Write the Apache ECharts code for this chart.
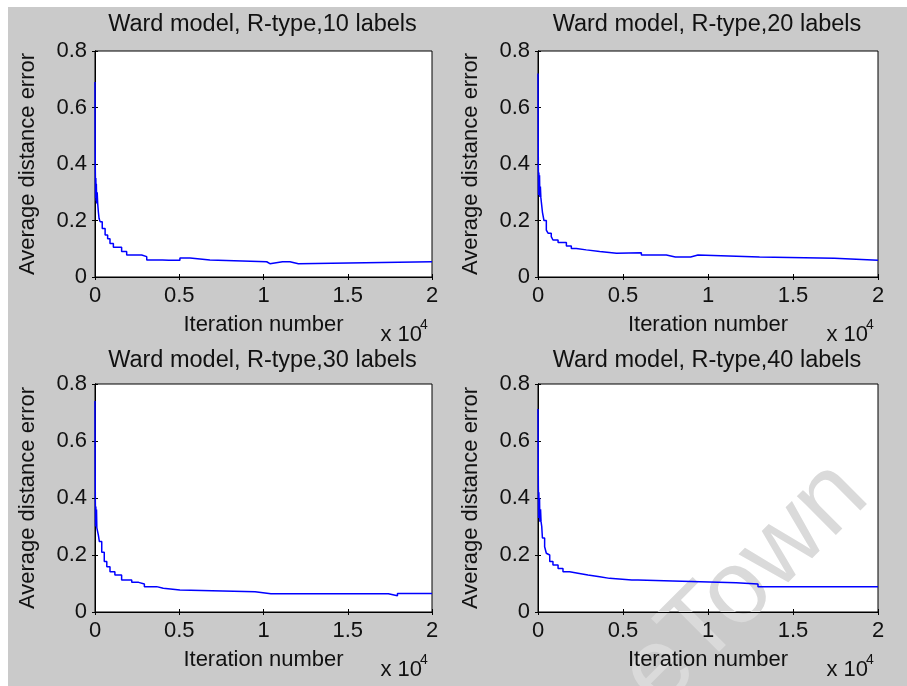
<!DOCTYPE html>
<html>
<head>
<meta charset="utf-8">
<script src="https://cdn.jsdelivr.net/npm/echarts@6/dist/echarts.min.js"></script>
<style>
  html, body { margin: 0; padding: 0; background: #ffffff; }
  #backdrop { position: absolute; left: 8px; top: 7px; width: 899px; height: 679px; background: #cacaca; }
  #chart { position: absolute; left: 0; top: 0; width: 907px; height: 686px; }
</style>
</head>
<body>
<div id="backdrop"></div>
<div id="chart"></div>
<script>
// Average distance error vs. iteration, Ward model, R-type, four label counts.
// Each list holds [iteration, error] pairs; the error holds until the next pair.
const labelCounts = [10, 20, 30, 40];

const err10 = [
  [0, 0.69], [12, 0.45], [20, 0.37], [35, 0.28], [50, 0.35], [65, 0.27], [80, 0.33],
  [100, 0.26], [130, 0.30], [160, 0.26], [200, 0.23], [240, 0.208], [300, 0.196],
  [430, 0.172], [600, 0.149], [750, 0.135], [890, 0.119], [1090, 0.105], [1380, 0.11],
  [1420, 0.105], [1580, 0.09], [1880, 0.078], [2770, 0.072], [3070, 0.060], [4000, 0.066],
  [4080, 0.059], [4380, 0.066], [4450, 0.059], [5040, 0.067], [5640, 0.060], [6820, 0.054],
  [10190, 0.047], [10380, 0.054], [11130, 0.048], [11230, 0.054], [11570, 0.047],
  [12070, 0.054], [20000, 0.054]
];

const err20 = [
  [0, 0.72], [12, 0.50], [20, 0.386], [35, 0.29], [50, 0.37], [70, 0.30], [90, 0.36],
  [110, 0.283], [140, 0.32], [170, 0.28], [218, 0.276], [260, 0.23], [350, 0.20],
  [490, 0.166], [590, 0.155], [780, 0.143], [880, 0.131], [1180, 0.122], [1670, 0.110],
  [1960, 0.101], [2250, 0.096], [2840, 0.090], [3630, 0.084], [4620, 0.077], [4720, 0.086],
  [6080, 0.078], [7550, 0.071], [8080, 0.078], [8140, 0.071], [8980, 0.078], [9410, 0.071],
  [13030, 0.066], [17440, 0.059], [20000, 0.059]
];

const err30 = [
  [0, 0.74], [12, 0.50], [20, 0.387], [35, 0.30], [50, 0.37], [70, 0.31], [90, 0.36],
  [110, 0.295], [130, 0.30], [200, 0.27], [260, 0.247], [400, 0.21], [550, 0.177],
  [700, 0.159], [890, 0.141], [1180, 0.13], [1580, 0.112], [2180, 0.104], [2590, 0.109],
  [2640, 0.104], [2670, 0.098], [2930, 0.089], [3660, 0.083], [4050, 0.077], [5040, 0.071],
  [9500, 0.064], [10440, 0.071], [10540, 0.064], [17410, 0.057], [17950, 0.065], [20000, 0.065]
];

const err40 = [
  [0, 0.712], [12, 0.55], [20, 0.44], [35, 0.33], [50, 0.42], [70, 0.34], [90, 0.40],
  [110, 0.317], [150, 0.36], [180, 0.317], [220, 0.30], [260, 0.26], [390, 0.229],
  [490, 0.206], [590, 0.20], [690, 0.177], [880, 0.165], [1180, 0.153], [1330, 0.147],
  [1380, 0.153], [1470, 0.141], [1860, 0.136], [2350, 0.13], [2940, 0.124], [3630, 0.118],
  [4210, 0.112], [5520, 0.106], [5580, 0.112], [5640, 0.106], [5700, 0.112], [5880, 0.109],
  [7940, 0.103], [11660, 0.098], [12940, 0.089], [20000, 0.089]
];

const seriesData = [err10, err20, err30, err40];

const xTicks = [0, 5000, 10000, 15000, 20000];
const yTicks = [0, 0.2, 0.4, 0.6, 0.8];
const xLabelText = ['0', '0.5', '1', '1.5', '2'];
const yLabelText = ['0', '0.2', '0.4', '0.6', '0.8'];

// Turn level-change pairs into an explicit staircase (hold value, then jump).
function staircase(pairs) {
  const out = [pairs[0]];
  for (let i = 1; i < pairs.length; i++) {
    out.push([pairs[i][0], pairs[i - 1][1]]);
    out.push(pairs[i]);
  }
  return out;
}

const FONT = '"Liberation Sans", Arial, Helvetica, sans-serif';
const INK = '#111111';

const panels = [
  { left: 95,  top: 51,  width: 337, height: 226, titleY: 24.5 },
  { left: 538, top: 51,  width: 340, height: 226, titleY: 24.5 },
  { left: 95,  top: 384, width: 337, height: 228, titleY: 360.5 },
  { left: 538, top: 384, width: 340, height: 228, titleY: 360.5 }
];

const grids = [], xAxes = [], yAxes = [], series = [], graphics = [];

panels.forEach((p, i) => {
  grids.push({
    left: p.left, top: p.top, width: p.width, height: p.height, z: 0,
    show: true, backgroundColor: '#ffffff', borderColor: '#000000', borderWidth: 1
  });
  const tickStyle = { show: true, inside: true, length: 3, lineStyle: { color: '#000', width: 1 } };
  const lineStyle = { show: true, lineStyle: { color: '#000', width: 1 } };
  // bottom axis with labels
  xAxes.push({
    gridIndex: i, type: 'value', position: 'bottom', z: 2,
    min: xTicks[0], max: xTicks[xTicks.length - 1], interval: xTicks[1] - xTicks[0],
    axisLine: lineStyle, axisTick: tickStyle, splitLine: { show: false },
    axisLabel: {
      margin: 8, color: INK, fontFamily: FONT, fontSize: 22, lineHeight: 22,
      formatter: v => xLabelText[xTicks.indexOf(v)]
    },
    name: 'Iteration number', nameLocation: 'middle', nameGap: 37,
    nameTextStyle: { color: INK, fontFamily: FONT, fontSize: 22, lineHeight: 22 }
  });
  // top axis: ticks only
  xAxes.push({
    gridIndex: i, type: 'value', position: 'top', z: 2,
    min: xTicks[0], max: xTicks[xTicks.length - 1], interval: xTicks[1] - xTicks[0],
    axisLine: lineStyle, axisTick: tickStyle, axisLabel: { show: false }, splitLine: { show: false }
  });
  // left axis with labels
  yAxes.push({
    gridIndex: i, type: 'value', position: 'left', z: 2,
    min: yTicks[0], max: yTicks[yTicks.length - 1], interval: 0.2,
    axisLine: lineStyle, axisTick: tickStyle, splitLine: { show: false },
    axisLabel: {
      margin: 8, color: INK, fontFamily: FONT, fontSize: 22, lineHeight: 22,
      formatter: v => yLabelText[yTicks.findIndex(t => Math.abs(t - v) < 1e-9)]
    },
    name: 'Average distance error', nameLocation: 'middle', nameGap: 56, nameRotate: 90,
    nameTextStyle: { color: INK, fontFamily: FONT, fontSize: 22, lineHeight: 22 }
  });
  // right axis: ticks only
  yAxes.push({
    gridIndex: i, type: 'value', position: 'right', z: 2,
    min: yTicks[0], max: yTicks[yTicks.length - 1], interval: 0.2,
    axisLine: lineStyle, axisTick: tickStyle, axisLabel: { show: false }, splitLine: { show: false }
  });

  series.push({
    type: 'line', xAxisIndex: i * 2, yAxisIndex: i * 2, data: staircase(seriesData[i]),
    showSymbol: false, symbol: 'none', silent: true, animation: false, z: 3,
    lineStyle: { color: '#0000ff', width: 1.5 }
  });

  const cx = p.left + p.width / 2;
  const right = p.left + p.width;
  const bottom = p.top + p.height;
  graphics.push({
    type: 'text', x: cx - 1, y: p.titleY, z: 5,
    style: {
      text: 'Ward model, R-type,' + labelCounts[i] + ' labels',
      fill: INK, font: '23.5px ' + FONT, textAlign: 'center', textVerticalAlign: 'middle'
    }
  });
  graphics.push({
    type: 'text', x: right - 10, y: bottom + 58, z: 5,
    style: { text: 'x 10', fill: INK, font: '22px ' + FONT, textAlign: 'right', textVerticalAlign: 'middle' }
  });
  graphics.push({
    type: 'text', x: right - 12, y: bottom + 48, z: 5,
    style: { text: '4', fill: INK, font: '14px ' + FONT, textAlign: 'left', textVerticalAlign: 'middle' }
  });
});

// faint diagonal watermark, above the plot backgrounds but under axes and lines
graphics.push({
  type: 'text', x: 745, y: 585, rotation: Math.PI / 4, z: 1,
  style: {
    text: 'eTown', fill: '#dadada', font: '104px ' + FONT,
    textAlign: 'center', textVerticalAlign: 'middle'
  }
});

const chart = echarts.init(document.getElementById('chart'), null, { renderer: 'canvas' });
chart.setOption({
  backgroundColor: 'transparent',
  animation: false,
  grid: grids,
  xAxis: xAxes,
  yAxis: yAxes,
  series: series,
  graphic: graphics
});
</script>
</body>
</html>
